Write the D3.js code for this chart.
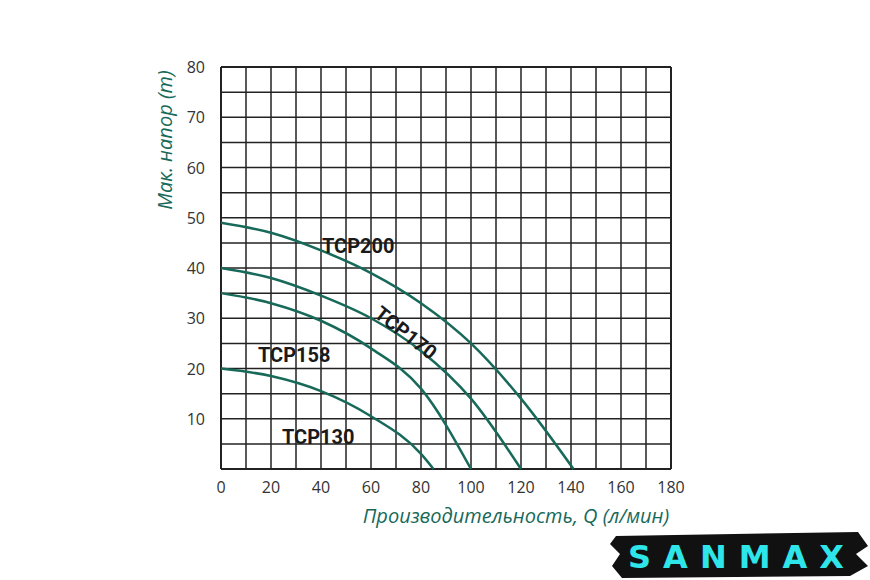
<!DOCTYPE html>
<html><head><meta charset="utf-8">
<script src="https://cdn.jsdelivr.net/npm/d3@7"></script>
<style>body{margin:0;background:#fff}</style>
</head><body><div id="chart"></div>
<script>
var names = ["TCP200", "TCP170", "TCP158", "TCP130"];
var flowQ = [
  [0, 20, 40, 60, 80, 100, 120, 141],
  [0, 20, 40, 60, 80, 100, 120],
  [0, 20, 40, 60, 80, 100],
  [0, 20, 40, 60, 80, 85]
];
var headH = [
  [49, 47, 43.5, 39, 33, 25, 14, 0],
  [40, 38, 34.5, 30, 23.5, 14, 0],
  [35, 33, 29.5, 24, 16, 0],
  [20, 18.5, 15.5, 10.5, 3, 0]
];
var xTicks = [0, 20, 40, 60, 80, 100, 120, 140, 160, 180];
var yTicks = [10, 20, 30, 40, 50, 60, 70, 80];

var w = 870, h = 580;
var green = "#17695a";
var svg = d3.select("#chart").append("svg").attr("width", w).attr("height", h);
var x = d3.scaleLinear().domain([0, 180]).range([221, 671]);
var y = d3.scaleLinear().domain([0, 80]).range([469, 67]);

var g = svg.append("g");
d3.range(0, 181, 10).forEach(function(v) {
  g.append("line").attr("x1", x(v)).attr("x2", x(v)).attr("y1", y(0)).attr("y2", y(80))
    .attr("stroke", "#222").attr("stroke-width", v == 0 || v == 180 ? 2 : 1.5);
});
d3.range(0, 81, 5).forEach(function(v) {
  g.append("line").attr("x1", x(0)).attr("x2", x(180)).attr("y1", y(v)).attr("y2", y(v))
    .attr("stroke", "#222").attr("stroke-width", v == 0 || v == 80 ? 2 : 1.5);
});

svg.selectAll("text.xt").data(xTicks).enter().append("text")
  .attr("x", function(d) { return x(d); }).attr("y", 493).attr("text-anchor", "middle")
  .attr("font-family", "Open Sans, sans-serif").attr("font-size", 16).attr("fill", "#333")
  .text(function(d) { return d; });
svg.selectAll("text.yt").data(yTicks).enter().append("text")
  .attr("x", 205).attr("y", function(d) { return y(d) + 6; }).attr("text-anchor", "end")
  .attr("font-family", "Open Sans, sans-serif").attr("font-size", 16).attr("fill", "#333")
  .text(function(d) { return d; });

var line = d3.line().curve(d3.curveMonotoneX)
  .x(function(d) { return x(d[0]); }).y(function(d) { return y(d[1]); });
names.forEach(function(n, i) {
  svg.append("path").datum(d3.zip(flowQ[i], headH[i])).attr("d", line)
    .attr("fill", "none").attr("stroke", green).attr("stroke-width", 2.5);
});

var lab = [[322, 253, 0], [373, 316, 38], [258, 362, 0], [282, 444, 0]];
names.forEach(function(n, i) {
  svg.append("text").attr("transform", "translate(" + lab[i][0] + "," + lab[i][1] + ") rotate(" + lab[i][2] + ")")
    .attr("font-family", "Roboto, sans-serif").attr("font-weight", "bold").attr("font-size", 20)
    .attr("fill", "#1a1a1a").text(n);
});

svg.append("text").attr("transform", "translate(172,140) rotate(-90)").attr("text-anchor", "middle")
  .attr("font-family", "Open Sans, sans-serif").attr("font-style", "italic").attr("font-size", 20)
  .attr("fill", green).text("Мак. напор (m)");
svg.append("text").attr("x", 516).attr("y", 523).attr("text-anchor", "middle")
  .attr("font-family", "Open Sans, sans-serif").attr("font-style", "italic").attr("font-size", 20)
  .attr("fill", green).text("Производительность, Q (л/мин)");

var logo = svg.append("g");
logo.append("path").attr("d", "M616,536 L858,532 L868,546 L856,554 L868,566 L850,576 L622,578 L612,566 L620,554 L610,544 Z")
  .attr("fill", "#111");
logo.append("text").attr("x", 742).attr("y", 568).attr("text-anchor", "middle")
  .attr("font-family", "DejaVu Sans, sans-serif").attr("font-weight", "bold").attr("font-size", 32).attr("letter-spacing", 12)
  .attr("fill", "#2ee6ea").text("SANMAX");
</script></body></html>
